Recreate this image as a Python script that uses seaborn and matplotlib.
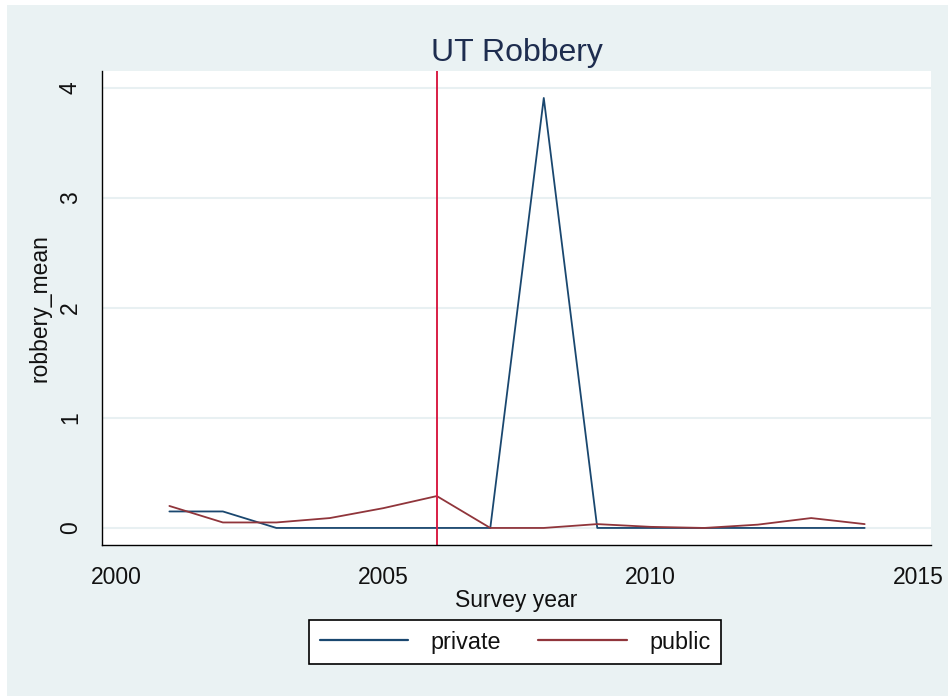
import matplotlib
matplotlib.use("Agg")
import matplotlib.pyplot as plt
from matplotlib.patches import Rectangle
from matplotlib.lines import Line2D
import seaborn as sns
import pandas as pd

years = list(range(2001, 2015))
private_mean = [0.15, 0.15, 0.0, 0.0, 0.0, 0.0, 0.0, 3.91, 0.0, 0.0, 0.0, 0.0, 0.0, 0.0]
public_mean = [0.20, 0.05, 0.05, 0.09, 0.18, 0.29, 0.0, 0.0, 0.035, 0.01, 0.0, 0.03, 0.09, 0.035]
groups = ["private", "public"]
palette = {"private": "#1a476f", "public": "#90353b"}
vline_year = 2006
title = "UT Robbery"
xticks = [2000, 2005, 2010, 2015]
yticks = [0, 1, 2, 3, 4]

df = pd.DataFrame({
    "year": years * 2,
    "robbery_mean": private_mean + public_mean,
    "group": ["private"] * len(years) + ["public"] * len(years),
})

sns.set_theme(style="white")
plt.rcParams["font.family"] = ["Liberation Sans", "DejaVu Sans"]

bg = "#eaf2f3"
W, H = 948, 696
fig = plt.figure(figsize=(W / 100, H / 100), dpi=100, facecolor="white")
fig.patches.append(Rectangle((7 / W, 0), 1 - 7 / W, 1 - 5 / H, transform=fig.transFigure,
                             facecolor=bg, edgecolor="none", zorder=-10))
ax = fig.add_axes([102 / W, 1 - 545 / H, (931 - 102) / W, (545 - 71) / H])
ax.set_facecolor("white")

sns.lineplot(data=df, x="year", y="robbery_mean", hue="group", hue_order=groups,
             palette=palette, ax=ax, linewidth=1.3, legend=False)
ax.axvline(vline_year, color="#d81e45", linewidth=1.4)

ax.set_xlim(1999.74, 2015.24)
ax.set_ylim(-0.155, 4.155)
ax.set_xticks(xticks)
ax.set_yticks(yticks)
ax.yaxis.grid(True, color="#e8f0f2", linewidth=1.5)
ax.xaxis.grid(False)
ax.set_axisbelow(True)

for s in ["top", "right"]:
    ax.spines[s].set_visible(False)
for s in ["left", "bottom"]:
    ax.spines[s].set_color("black")
    ax.spines[s].set_linewidth(1.0)

ax.tick_params(axis="both", which="both", direction="out", length=8, width=1.0,
               colors="black", labelsize=16.5)
ax.tick_params(axis="x", pad=7)
ax.tick_params(axis="y", pad=6.5)
for lab in ax.get_yticklabels():
    lab.set_rotation(90)
    lab.set_va("center")
for lab in ax.get_xticklabels() + ax.get_yticklabels():
    lab.set_color("#111111")

ax.set_xlabel("Survey year", fontsize=16.5, color="#111111", labelpad=0)
ax.set_ylabel("robbery_mean", fontsize=16.5, color="#111111", labelpad=5)
ax.set_title(title, fontsize=23, color="#1e2d4f", pad=7.5)

handles = [Line2D([0], [0], color=palette[g], linewidth=1.6) for g in groups]
leg = fig.legend(handles, groups, loc="center", bbox_to_anchor=(515 / W, 1 - 642 / H),
                 ncol=2, fontsize=16.8, frameon=True, fancybox=False, framealpha=1,
                 handlelength=3.8, handletextpad=0.95, columnspacing=1.6,
                 borderpad=0.45)
leg.get_frame().set_edgecolor("black")
leg.get_frame().set_linewidth(1.2)
leg.get_frame().set_facecolor("white")
for t in leg.get_texts():
    t.set_color("#111111")

fig.savefig("out.png", dpi=100, facecolor="white")
